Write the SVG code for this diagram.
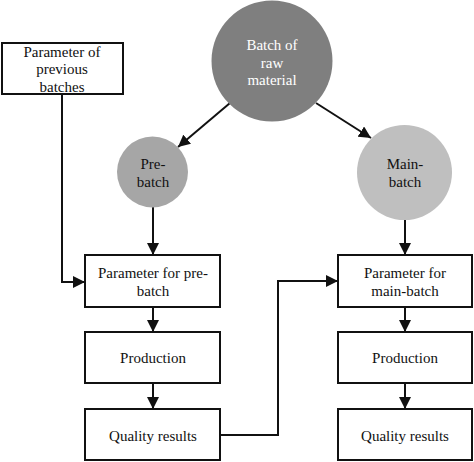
<svg xmlns="http://www.w3.org/2000/svg" width="474" height="462" viewBox="0 0 474 462">
<style>
text{font-family:"Liberation Serif","Times New Roman",serif;font-size:15px;text-anchor:middle;fill:#111}
.box{fill:#fff;stroke:#111;stroke-width:2}
.ln{fill:none;stroke:#111;stroke-width:2}
.w{fill:#fff}
</style>
<defs>
<marker id="ah" markerUnits="userSpaceOnUse" markerWidth="12" markerHeight="12" viewBox="0 0 12 12" refX="12" refY="6" orient="auto">
<path d="M0,0 L12,6 L0,12 Z" fill="#111"/>
</marker>
</defs>
<rect width="474" height="462" fill="#fff"/>
<g id="connectors">
<line class="ln" x1="230" y1="103" x2="178" y2="147" marker-end="url(#ah)"/>
<line class="ln" x1="316" y1="103" x2="371" y2="138" marker-end="url(#ah)"/>
<polyline class="ln" points="62,94 62,282 85,282" marker-end="url(#ah)"/>
<line class="ln" x1="153" y1="207" x2="153" y2="255" marker-end="url(#ah)"/>
<line class="ln" x1="405" y1="220" x2="405" y2="255" marker-end="url(#ah)"/>
<line class="ln" x1="153" y1="307" x2="153" y2="332" marker-end="url(#ah)"/>
<line class="ln" x1="153" y1="383" x2="153" y2="409" marker-end="url(#ah)"/>
<line class="ln" x1="405" y1="307" x2="405" y2="332" marker-end="url(#ah)"/>
<line class="ln" x1="405" y1="383" x2="405" y2="409" marker-end="url(#ah)"/>
<polyline class="ln" points="220,435 278,435 278,281 338,281" marker-end="url(#ah)"/>
</g>
<g id="raw">
<circle cx="272" cy="61" r="60.5" fill="#7f7f7f"/>
<text class="w" x="272" y="50">Batch of</text>
<text class="w" x="272" y="68">raw</text>
<text class="w" x="272" y="85">material</text>
</g>
<g id="prev">
<rect class="box" x="2" y="43" width="121" height="51"/>
<text x="62" y="57">Parameter of</text>
<text x="62" y="74">previous</text>
<text x="62" y="92">batches</text>
</g>
<g id="pre">
<circle cx="152.5" cy="172" r="35.5" fill="#a6a6a6"/>
<text x="153" y="169">Pre-</text>
<text x="153" y="187">batch</text>
</g>
<g id="main">
<circle cx="404.5" cy="172.5" r="47.5" fill="#bfbfbf"/>
<text x="405" y="169">Main-</text>
<text x="405" y="187">batch</text>
</g>
<g id="param-pre">
<rect class="box" x="85" y="255" width="135" height="52"/>
<text x="153" y="278">Parameter for pre-</text>
<text x="153" y="296">batch</text>
</g>
<g id="prod-pre">
<rect class="box" x="85" y="332" width="135" height="51"/>
<text x="153" y="363">Production</text>
</g>
<g id="qual-pre">
<rect class="box" x="85" y="409" width="135" height="51"/>
<text x="153" y="441">Quality results</text>
</g>
<g id="param-main">
<rect class="box" x="338" y="255" width="134" height="52"/>
<text x="405" y="278">Parameter for</text>
<text x="405" y="296">main-batch</text>
</g>
<g id="prod-main">
<rect class="box" x="338" y="332" width="134" height="51"/>
<text x="405" y="363">Production</text>
</g>
<g id="qual-main">
<rect class="box" x="338" y="409" width="134" height="51"/>
<text x="405" y="441">Quality results</text>
</g>
</svg>
